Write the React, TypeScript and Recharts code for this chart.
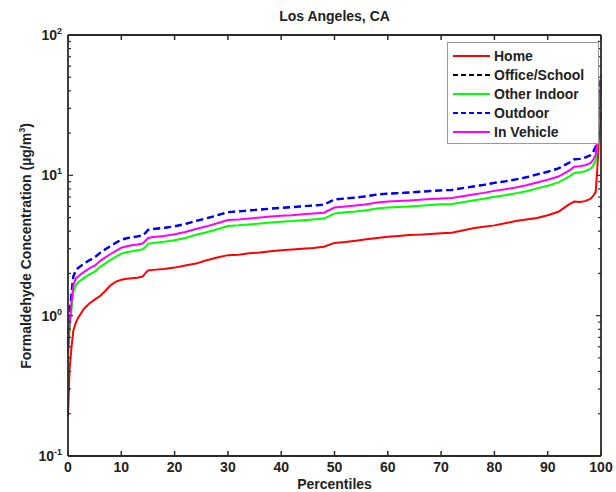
import React from 'react';
import { LineChart, Line, XAxis, YAxis, Legend } from 'recharts';

const chartTitle = 'Los Angeles, CA';
const xLabel = 'Percentiles';

const percentiles = [0, 0.3, 0.7, 1, 1.5, 2, 3, 4, 5, 6, 7, 8, 9, 10, 11, 12, 13, 14, 14.5, 15, 16, 18, 20, 22, 24, 26, 28, 30, 32, 34, 36, 38, 40, 42, 44, 46, 48, 50, 52, 54, 56, 58, 60, 62, 64, 66, 68, 70, 72, 74, 76, 78, 80, 82, 84, 86, 88, 90, 92, 94, 95, 96, 97, 98, 98.5, 99, 99.3, 99.6, 100];

const home = [0.19, 0.42, 0.62, 0.78, 0.9, 0.98, 1.12, 1.22, 1.3, 1.38, 1.5, 1.65, 1.75, 1.8, 1.83, 1.85, 1.86, 1.9, 2.0, 2.1, 2.12, 2.15, 2.2, 2.28, 2.35, 2.48, 2.6, 2.7, 2.72, 2.78, 2.82, 2.88, 2.92, 2.96, 3.0, 3.04, 3.1, 3.3, 3.35, 3.42, 3.5, 3.57, 3.65, 3.7, 3.75, 3.78, 3.82, 3.86, 3.9, 4.05, 4.2, 4.3, 4.4, 4.55, 4.72, 4.85, 4.97, 5.2, 5.5, 6.2, 6.5, 6.45, 6.55, 6.8, 7.1, 7.6, 11, 18, 28];

const officeSchool = [0.62, 1.02, 1.5, 1.9, 2.12, 2.2, 2.35, 2.48, 2.6, 2.8, 2.97, 3.14, 3.31, 3.48, 3.56, 3.62, 3.67, 3.73, 3.88, 4.08, 4.15, 4.22, 4.33, 4.5, 4.73, 4.94, 5.19, 5.47, 5.53, 5.62, 5.7, 5.79, 5.87, 5.93, 6.02, 6.09, 6.18, 6.73, 6.84, 6.95, 7.09, 7.3, 7.41, 7.47, 7.55, 7.64, 7.73, 7.81, 7.87, 8.1, 8.32, 8.55, 8.84, 9.06, 9.35, 9.69, 10.15, 10.6, 11.2, 12.3, 13.0, 13.1, 13.4, 13.9, 14.6, 16, 20, 30, 52];

const otherIndoor = [0.5, 0.8, 1.15, 1.48, 1.66, 1.74, 1.86, 1.97, 2.06, 2.22, 2.36, 2.5, 2.63, 2.77, 2.83, 2.88, 2.92, 2.97, 3.08, 3.25, 3.3, 3.36, 3.45, 3.58, 3.77, 3.93, 4.13, 4.35, 4.4, 4.47, 4.54, 4.61, 4.67, 4.72, 4.79, 4.85, 4.92, 5.35, 5.45, 5.53, 5.64, 5.8, 5.9, 5.94, 6.0, 6.08, 6.15, 6.22, 6.26, 6.44, 6.62, 6.8, 7.03, 7.21, 7.44, 7.71, 8.07, 8.44, 8.9, 9.8, 10.4, 10.5, 10.7, 11.1, 11.6, 12.7, 16.5, 26, 45];

const outdoor = [0.62, 1.02, 1.5, 1.9, 2.12, 2.2, 2.35, 2.48, 2.6, 2.8, 2.97, 3.14, 3.31, 3.48, 3.56, 3.62, 3.67, 3.73, 3.88, 4.08, 4.15, 4.22, 4.33, 4.5, 4.73, 4.94, 5.19, 5.47, 5.53, 5.62, 5.7, 5.79, 5.87, 5.93, 6.02, 6.09, 6.18, 6.73, 6.84, 6.95, 7.09, 7.3, 7.41, 7.47, 7.55, 7.64, 7.73, 7.81, 7.87, 8.1, 8.32, 8.55, 8.84, 9.06, 9.35, 9.69, 10.15, 10.6, 11.2, 12.3, 13.0, 13.1, 13.4, 13.9, 14.6, 16, 20, 30, 52];

const inVehicle = [0.55, 0.9, 1.3, 1.65, 1.85, 1.92, 2.05, 2.17, 2.27, 2.45, 2.6, 2.75, 2.9, 3.05, 3.12, 3.18, 3.22, 3.27, 3.4, 3.58, 3.64, 3.7, 3.8, 3.95, 4.15, 4.33, 4.55, 4.8, 4.85, 4.93, 5.0, 5.08, 5.15, 5.2, 5.28, 5.34, 5.42, 5.9, 6.0, 6.1, 6.22, 6.4, 6.5, 6.55, 6.62, 6.7, 6.78, 6.85, 6.9, 7.1, 7.3, 7.5, 7.75, 7.95, 8.2, 8.5, 8.9, 9.3, 9.8, 10.8, 11.5, 11.6, 11.8, 12.2, 12.8, 14, 18, 28, 48];

const xTicks = [0, 10, 20, 30, 40, 50, 60, 70, 80, 90, 100];
const yTicks = [0.1, 0.2, 0.3, 0.4, 0.5, 0.6, 0.7, 0.8, 0.9, 1, 2, 3, 4, 5, 6, 7, 8, 9, 10, 20, 30, 40, 50, 60, 70, 80, 90, 100];

const series = [
  { key: 'home', name: 'Home', color: '#ff0000', dash: undefined as string | undefined, width: 2 },
  { key: 'officeSchool', name: 'Office/School', color: '#000000', dash: '7 4', width: 1.6 },
  { key: 'otherIndoor', name: 'Other Indoor', color: '#00ff00', dash: undefined, width: 2 },
  { key: 'outdoor', name: 'Outdoor', color: '#0000ff', dash: '7 4', width: 2.4 },
  { key: 'inVehicle', name: 'In Vehicle', color: '#ff00ff', dash: undefined, width: 2 },
];

const data = percentiles.map((p, i) => ({
  p,
  home: home[i],
  officeSchool: officeSchool[i],
  otherIndoor: otherIndoor[i],
  outdoor: outdoor[i],
  inVehicle: inVehicle[i],
}));

const FONT = 'Arial, "Liberation Sans", Helvetica, sans-serif';
const AXIS = '#2b2b2b';

const isMajor = (v: number) => {
  const l = Math.log10(v);
  return Math.abs(l - Math.round(l)) < 1e-9;
};

const BottomTick = (props: any) => {
  const { x, y, payload } = props;
  return (
    <g>
      <line x1={x} x2={x} y1={y} y2={y - 5} stroke={AXIS} strokeWidth={1.5} />
      <text x={x} y={y + 16} textAnchor="middle" fontFamily={FONT} fontWeight="bold" fontSize={14} fill="#222">
        {payload.value}
      </text>
    </g>
  );
};

const TopTick = (props: any) => {
  const { x, y } = props;
  return <line x1={x} x2={x} y1={y} y2={y + 5} stroke={AXIS} strokeWidth={1.5} />;
};

const LeftTick = (props: any) => {
  const { x, y, payload } = props;
  const v = payload.value as number;
  const major = isMajor(v);
  const exp = Math.round(Math.log10(v));
  return (
    <g>
      <line x1={x} x2={x + (major ? 5 : 3)} y1={y} y2={y} stroke={AXIS} strokeWidth={1.2} />
      {major && (
        <text x={x - 6} y={y + 5} textAnchor="end" fontFamily={FONT} fontWeight="bold" fontSize={14} fill="#222">
          10
          <tspan dy={-6} fontSize={9}>{String(exp)}</tspan>
        </text>
      )}
    </g>
  );
};

const RightTick = (props: any) => {
  const { x, y, payload } = props;
  const major = isMajor(payload.value as number);
  return <line x1={x} x2={x - (major ? 5 : 3)} y1={y} y2={y} stroke={AXIS} strokeWidth={1.2} />;
};

const LegendBox = () => (
  <svg width={152} height={102} style={{ display: 'block' }}>
    <rect x={0.5} y={0.5} width={151} height={101} fill="#ffffff" stroke="#9a9a9a" strokeWidth={1} />
    {series.map((s, i) => {
      const cy = 14 + i * 19;
      return (
        <g key={s.key}>
          <line x1={6} x2={43} y1={cy} y2={cy} stroke={s.color} strokeWidth={2} strokeDasharray={s.dash ? '5 3' : undefined} />
          <text x={47} y={cy + 5} fontFamily={FONT} fontWeight="bold" fontSize={14} fill="#222">
            {s.name}
          </text>
        </g>
      );
    })}
  </svg>
);

const YLabel = (props: any) => (
  <text transform="translate(31,246) rotate(-90)" textAnchor="middle" fontFamily={FONT} fontWeight="bold" fontSize={14} fill="#222">
    Formaldehyde Concentration (µg/m
    <tspan dy={-6} fontSize={9}>3</tspan>
    <tspan dy={6}>)</tspan>
  </text>
);

const XLabel = () => (
  <text x={334.5} y={489} textAnchor="middle" fontFamily={FONT} fontWeight="bold" fontSize={14} fill="#222">
    {xLabel}
  </text>
);

export default function App() {
  return (
    <div style={{ position: 'absolute', left: 0, top: 0, width: 616, height: 492, background: '#fff' }}>
      <div
        style={{
          position: 'absolute',
          left: 0,
          width: 669,
          top: 8,
          textAlign: 'center',
          fontFamily: FONT,
          fontWeight: 'bold',
          fontSize: 14,
          color: '#222',
          zIndex: 2,
        }}
      >
        {chartTitle}
      </div>
      <LineChart width={616} height={492} data={data} margin={{ top: 30, right: 10, bottom: 16, left: 28 }}>
        <XAxis
          dataKey="p"
          type="number"
          domain={[0, 100]}
          ticks={xTicks}
          interval={0}
          height={20}
          tickSize={0}
          tickMargin={0}
          tickLine={false}
          tick={<BottomTick />}
          axisLine={{ stroke: AXIS, strokeWidth: 1.8 }}
          label={<XLabel />}
        />
        <XAxis
          xAxisId="top"
          orientation="top"
          dataKey="p"
          type="number"
          domain={[0, 100]}
          ticks={xTicks}
          interval={0}
          height={5}
          tickSize={0}
          tickMargin={0}
          tickLine={false}
          tick={<TopTick />}
          axisLine={{ stroke: AXIS, strokeWidth: 1.8 }}
        />
        <YAxis
          yAxisId="left"
          type="number"
          scale="log"
          domain={[0.1, 100]}
          allowDataOverflow
          ticks={yTicks}
          interval={0}
          width={40}
          tickSize={0}
          tickMargin={0}
          tickLine={false}
          tick={<LeftTick />}
          axisLine={{ stroke: AXIS, strokeWidth: 1.8 }}
          label={<YLabel />}
        />
        <YAxis
          yAxisId="right"
          orientation="right"
          type="number"
          scale="log"
          domain={[0.1, 100]}
          allowDataOverflow
          ticks={yTicks}
          interval={0}
          width={5}
          tickSize={0}
          tickMargin={0}
          tickLine={false}
          tick={<RightTick />}
          axisLine={{ stroke: AXIS, strokeWidth: 1.8 }}
        />
        {series.map((s) => (
          <Line
            key={s.key}
            yAxisId="left"
            dataKey={s.key}
            name={s.name}
            type="linear"
            stroke={s.color}
            strokeWidth={s.width}
            strokeDasharray={s.dash}
            dot={false}
            activeDot={false}
            isAnimationActive={false}
          />
        ))}
        <Legend
          layout="vertical"
          align="center"
          verticalAlign="middle"
          content={<LegendBox />}
          wrapperStyle={{ position: 'absolute', left: 447, top: 42, width: 152, height: 102 }}
        />
      </LineChart>
    </div>
  );
}
